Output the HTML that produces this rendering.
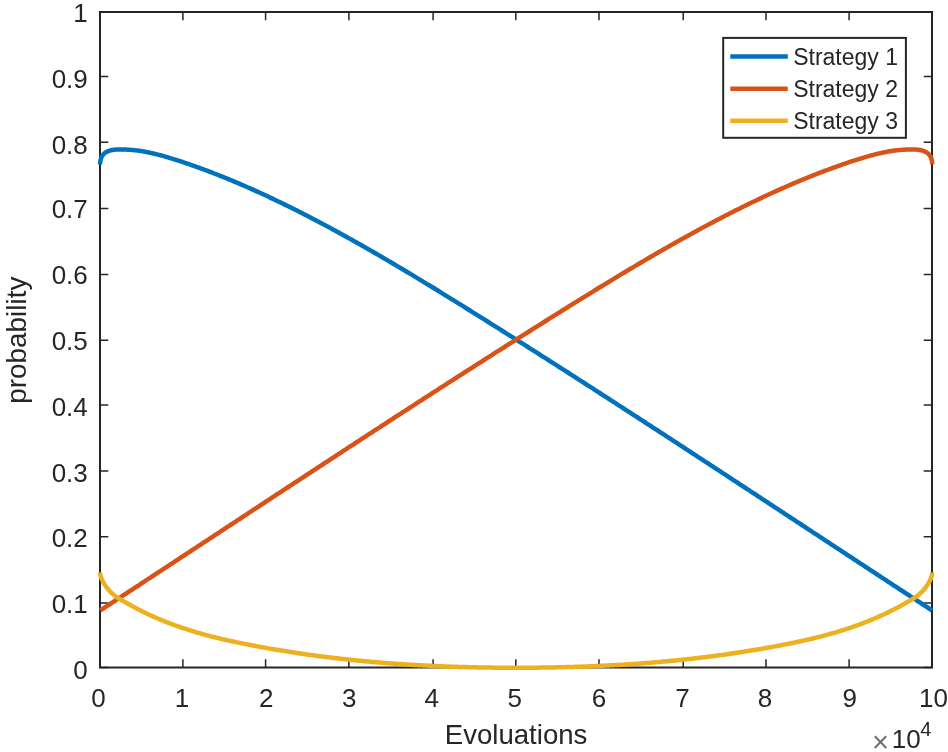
<!DOCTYPE html>
<html><head><meta charset="utf-8"><style>
html,body{margin:0;padding:0;background:#fff;}
body{width:948px;height:752px;overflow:hidden;}
svg{display:block;}
text{font-family:"Liberation Sans",Arial,sans-serif;fill:#262626;}
</style></head><body>
<svg width="948" height="752" viewBox="0 0 948 752">
<rect x="0" y="0" width="948" height="752" fill="#fff"/>
<rect x="100.0" y="12.0" width="832.0" height="655.5" fill="#fff" stroke="#262626" stroke-width="2"/>
<path d="M100.00,667.5V659.20M100.00,12.0V20.30M100.0,667.40H108.30M932.0,667.40H923.70M182.90,667.5V659.20M182.90,12.0V20.30M100.0,603.10H108.30M932.0,603.10H923.70M265.60,667.5V659.20M265.60,12.0V20.30M100.0,536.80H108.30M932.0,536.80H923.70M348.90,667.5V659.20M348.90,12.0V20.30M100.0,470.90H108.30M932.0,470.90H923.70M433.10,667.5V659.20M433.10,12.0V20.30M100.0,404.90H108.30M932.0,404.90H923.70M515.80,667.5V659.20M515.80,12.0V20.30M100.0,340.30H108.30M932.0,340.30H923.70M599.00,667.5V659.20M599.00,12.0V20.30M100.0,274.40H108.30M932.0,274.40H923.70M683.20,667.5V659.20M683.20,12.0V20.30M100.0,208.40H108.30M932.0,208.40H923.70M766.00,667.5V659.20M766.00,12.0V20.30M100.0,142.30H108.30M932.0,142.30H923.70M849.10,667.5V659.20M849.10,12.0V20.30M100.0,76.40H108.30M932.0,76.40H923.70M932.00,667.5V659.20M932.00,12.0V20.30M100.0,12.00H108.30M932.0,12.00H923.70" stroke="#262626" stroke-width="1.5" fill="none"/>
<g font-size="26">
<text x="87.8" y="678.85" text-anchor="end">0</text><text x="87.8" y="613.05" text-anchor="end">0.1</text><text x="87.8" y="546.65" text-anchor="end">0.2</text><text x="87.8" y="482.15" text-anchor="end">0.3</text><text x="87.8" y="416.15" text-anchor="end">0.4</text><text x="87.8" y="350.35" text-anchor="end">0.5</text><text x="87.8" y="284.15" text-anchor="end">0.6</text><text x="87.8" y="218.40" text-anchor="end">0.7</text><text x="87.8" y="154.00" text-anchor="end">0.8</text><text x="87.8" y="87.90" text-anchor="end">0.9</text><text x="87.8" y="21.80" text-anchor="end">1</text>
<text x="98.6" y="706.6" text-anchor="middle">0</text><text x="181.9" y="706.6" text-anchor="middle">1</text><text x="266.3" y="706.6" text-anchor="middle">2</text><text x="349.2" y="706.6" text-anchor="middle">3</text><text x="431.7" y="706.6" text-anchor="middle">4</text><text x="514.7" y="706.6" text-anchor="middle">5</text><text x="599.0" y="706.6" text-anchor="middle">6</text><text x="682.5" y="706.6" text-anchor="middle">7</text><text x="764.9" y="706.6" text-anchor="middle">8</text><text x="849.7" y="706.6" text-anchor="middle">9</text><text x="933.4" y="706.6" text-anchor="middle">10</text>
</g>
<text x="516.1" y="743.5" font-size="27.6" text-anchor="middle">Evoluations</text>
<text transform="translate(25.7,340.2) rotate(-90)" font-size="27.9" text-anchor="middle">probability</text>
<text x="871.9" y="752.0" font-size="29" style="fill:#707070">×</text>
<text x="891.8" y="747.8" font-size="26">10</text>
<text x="920.2" y="735.6" font-size="20">4</text>
<g fill="none" stroke-width="4.5" stroke-linejoin="round" stroke-linecap="butt">
<path d="M100.00,164.30L100.04,163.67L100.10,163.04L100.16,162.43L100.24,161.82L100.33,161.22L100.44,160.64L100.56,160.07L100.70,159.50L100.86,158.95L101.03,158.41L101.22,157.89L101.43,157.37L101.67,156.87L101.92,156.38L102.20,155.91L102.50,155.45L102.82,155.00L103.17,154.57L103.55,154.15L103.96,153.75L104.39,153.36L104.85,152.99L105.34,152.64L105.86,152.30L106.41,151.98L107.00,151.68L107.62,151.40L108.27,151.13L108.96,150.88L109.69,150.65L110.45,150.44L111.25,150.25L112.09,150.08L112.97,149.93L113.89,149.80L114.85,149.69L115.86,149.61L116.91,149.54L118.00,149.49L119.63,149.46L121.26,149.45L122.89,149.46L124.53,149.49L126.16,149.55L127.79,149.64L129.42,149.74L131.05,149.87L132.68,150.01L134.31,150.18L135.94,150.37L137.58,150.57L139.21,150.80L140.84,151.04L142.47,151.31L144.10,151.59L145.73,151.88L147.36,152.20L148.99,152.53L150.63,152.87L152.26,153.23L153.89,153.61L155.52,153.99L157.15,154.40L158.78,154.81L160.41,155.24L162.04,155.68L163.68,156.12L165.31,156.59L166.94,157.06L168.57,157.54L170.20,158.03L171.83,158.53L173.46,159.03L175.09,159.55L176.73,160.07L178.36,160.60L179.99,161.13L181.62,161.68L183.25,162.22L184.88,162.77L186.51,163.33L188.14,163.89L189.78,164.45L191.41,165.02L193.04,165.60L194.67,166.17L196.30,166.76L197.93,167.34L199.56,167.94L201.19,168.53L202.83,169.13L204.46,169.74L206.09,170.35L207.72,170.96L209.35,171.58L210.98,172.21L212.61,172.83L214.24,173.47L215.88,174.10L217.51,174.74L219.14,175.39L220.77,176.04L222.40,176.69L224.03,177.35L225.66,178.01L227.29,178.67L228.93,179.34L230.56,180.02L232.19,180.69L233.82,181.37L235.45,182.06L237.08,182.75L238.71,183.44L240.34,184.14L241.98,184.84L243.61,185.55L245.24,186.26L246.87,186.97L248.50,187.69L250.13,188.41L251.76,189.13L253.39,189.86L255.03,190.59L256.66,191.33L258.29,192.07L259.92,192.81L261.55,193.56L263.18,194.31L264.81,195.06L266.44,195.82L268.08,196.58L269.71,197.34L271.34,198.11L272.97,198.88L274.60,199.66L276.23,200.44L277.86,201.22L279.49,202.00L281.13,202.79L282.76,203.58L284.39,204.38L286.02,205.18L287.65,205.98L289.28,206.78L290.91,207.59L292.55,208.40L294.18,209.22L295.81,210.03L297.44,210.85L299.07,211.68L300.70,212.51L302.33,213.34L303.96,214.17L305.60,215.00L307.23,215.84L308.86,216.68L310.49,217.53L312.12,218.38L313.75,219.23L315.38,220.08L317.01,220.94L318.65,221.80L320.28,222.66L321.91,223.52L323.54,224.39L325.17,225.26L326.80,226.13L328.43,227.01L330.06,227.89L331.70,228.77L333.33,229.65L334.96,230.54L336.59,231.43L338.22,232.32L339.85,233.21L341.48,234.11L343.11,235.00L344.75,235.91L346.38,236.81L348.01,237.71L349.64,238.62L351.27,239.53L352.90,240.45L354.53,241.36L356.16,242.28L357.80,243.20L359.43,244.12L361.06,245.04L362.69,245.97L364.32,246.90L365.95,247.83L367.58,248.76L369.21,249.70L370.85,250.63L372.48,251.57L374.11,252.51L375.74,253.46L377.37,254.40L379.00,255.35L380.63,256.30L382.26,257.25L383.90,258.20L385.53,259.16L387.16,260.11L388.79,261.07L390.42,262.03L392.05,262.99L393.68,263.95L395.31,264.92L396.95,265.89L398.58,266.85L400.21,267.82L401.84,268.80L403.47,269.77L405.10,270.74L406.73,271.72L408.36,272.70L410.00,273.68L411.63,274.66L413.26,275.64L414.89,276.63L416.52,277.61L418.15,278.60L419.78,279.59L421.41,280.58L423.05,281.57L424.68,282.56L426.31,283.55L427.94,284.55L429.57,285.54L431.20,286.54L432.83,287.54L434.46,288.54L436.10,289.54L437.73,290.54L439.36,291.54L440.99,292.55L442.62,293.55L444.25,294.56L445.88,295.56L447.52,296.57L449.15,297.58L450.78,298.59L452.41,299.60L454.04,300.61L455.67,301.62L457.30,302.64L458.93,303.65L460.57,304.67L462.20,305.68L463.83,306.70L465.46,307.72L467.09,308.73L468.72,309.75L470.35,310.77L471.98,311.79L473.62,312.81L475.25,313.83L476.88,314.85L478.51,315.87L480.14,316.90L481.77,317.92L483.40,318.94L485.03,319.97L486.67,320.99L488.30,322.02L489.93,323.04L491.56,324.07L493.19,325.09L494.82,326.12L496.45,327.15L498.08,328.17L499.72,329.20L501.35,330.23L502.98,331.26L504.61,332.29L506.24,333.32L507.87,334.35L509.50,335.38L511.13,336.41L512.77,337.44L514.40,338.47L516.03,339.51L517.66,340.54L519.29,341.57L520.92,342.61L522.55,343.64L524.18,344.68L525.82,345.71L527.45,346.75L529.08,347.78L530.71,348.82L532.34,349.86L533.97,350.89L535.60,351.93L537.23,352.97L538.87,354.01L540.50,355.05L542.13,356.08L543.76,357.12L545.39,358.16L547.02,359.20L548.65,360.25L550.28,361.29L551.92,362.33L553.55,363.37L555.18,364.41L556.81,365.45L558.44,366.50L560.07,367.54L561.70,368.58L563.33,369.63L564.97,370.67L566.60,371.72L568.23,372.76L569.86,373.81L571.49,374.85L573.12,375.90L574.75,376.95L576.38,377.99L578.02,379.04L579.65,380.09L581.28,381.14L582.91,382.19L584.54,383.23L586.17,384.28L587.80,385.33L589.43,386.38L591.07,387.43L592.70,388.48L594.33,389.53L595.96,390.58L597.59,391.64L599.22,392.69L600.85,393.74L602.48,394.79L604.12,395.84L605.75,396.90L607.38,397.95L609.01,399.00L610.64,400.06L612.27,401.11L613.90,402.16L615.54,403.22L617.17,404.27L618.80,405.33L620.43,406.39L622.06,407.44L623.69,408.50L625.32,409.55L626.95,410.61L628.59,411.67L630.22,412.72L631.85,413.78L633.48,414.84L635.11,415.90L636.74,416.95L638.37,418.01L640.00,419.07L641.64,420.13L643.27,421.19L644.90,422.25L646.53,423.31L648.16,424.37L649.79,425.43L651.42,426.49L653.05,427.55L654.69,428.61L656.32,429.67L657.95,430.73L659.58,431.79L661.21,432.86L662.84,433.92L664.47,434.98L666.10,436.04L667.74,437.11L669.37,438.17L671.00,439.23L672.63,440.30L674.26,441.36L675.89,442.42L677.52,443.49L679.15,444.55L680.79,445.61L682.42,446.68L684.05,447.74L685.68,448.81L687.31,449.87L688.94,450.94L690.57,452.00L692.20,453.07L693.84,454.14L695.47,455.20L697.10,456.27L698.73,457.33L700.36,458.40L701.99,459.47L703.62,460.53L705.25,461.60L706.89,462.67L708.52,463.74L710.15,464.80L711.78,465.87L713.41,466.94L715.04,468.01L716.67,469.07L718.30,470.14L719.94,471.21L721.57,472.28L723.20,473.35L724.83,474.42L726.46,475.49L728.09,476.55L729.72,477.62L731.35,478.69L732.99,479.76L734.62,480.83L736.25,481.90L737.88,482.97L739.51,484.04L741.14,485.11L742.77,486.18L744.40,487.25L746.04,488.32L747.67,489.39L749.30,490.46L750.93,491.53L752.56,492.60L754.19,493.67L755.82,494.74L757.45,495.81L759.09,496.89L760.72,497.96L762.35,499.03L763.98,500.10L765.61,501.17L767.24,502.24L768.87,503.31L770.51,504.38L772.14,505.46L773.77,506.53L775.40,507.60L777.03,508.67L778.66,509.74L780.29,510.81L781.92,511.89L783.56,512.96L785.19,514.03L786.82,515.10L788.45,516.17L790.08,517.25L791.71,518.32L793.34,519.39L794.97,520.46L796.61,521.54L798.24,522.61L799.87,523.68L801.50,524.75L803.13,525.82L804.76,526.90L806.39,527.97L808.02,529.04L809.66,530.11L811.29,531.19L812.92,532.26L814.55,533.33L816.18,534.40L817.81,535.48L819.44,536.55L821.07,537.62L822.71,538.69L824.34,539.77L825.97,540.84L827.60,541.91L829.23,542.98L830.86,544.05L832.49,545.13L834.12,546.20L835.76,547.27L837.39,548.34L839.02,549.42L840.65,550.49L842.28,551.56L843.91,552.63L845.54,553.70L847.17,554.78L848.81,555.85L850.44,556.92L852.07,557.99L853.70,559.06L855.33,560.13L856.96,561.21L858.59,562.28L860.22,563.35L861.86,564.42L863.49,565.49L865.12,566.56L866.75,567.63L868.38,568.71L870.01,569.78L871.64,570.85L873.27,571.92L874.91,572.99L876.54,574.06L878.17,575.13L879.80,576.20L881.43,577.27L883.06,578.34L884.69,579.41L886.32,580.48L887.96,581.55L889.59,582.62L891.22,583.69L892.85,584.76L894.48,585.83L896.11,586.90L897.74,587.97L899.37,589.04L901.01,590.11L902.64,591.18L904.27,592.25L905.90,593.32L907.53,594.38L909.16,595.45L910.79,596.52L912.42,597.59L914.06,598.66L915.69,599.73L917.32,600.79L918.95,601.86L920.58,602.93L922.21,604.00L923.84,605.06L925.47,606.13L927.11,607.20L928.74,608.26L930.37,609.33L932.00,610.40" stroke="#0072BD"/>
<path d="M100.30,610.40L101.93,609.33L103.56,608.26L105.19,607.20L106.83,606.13L108.46,605.06L110.09,604.00L111.72,602.93L113.35,601.86L114.98,600.79L116.61,599.73L118.24,598.66L119.88,597.59L121.51,596.52L123.14,595.45L124.77,594.38L126.40,593.32L128.03,592.25L129.66,591.18L131.29,590.11L132.93,589.04L134.56,587.97L136.19,586.90L137.82,585.83L139.45,584.76L141.08,583.69L142.71,582.62L144.34,581.55L145.98,580.48L147.61,579.41L149.24,578.34L150.87,577.27L152.50,576.20L154.13,575.13L155.76,574.06L157.39,572.99L159.03,571.92L160.66,570.85L162.29,569.78L163.92,568.71L165.55,567.63L167.18,566.56L168.81,565.49L170.44,564.42L172.08,563.35L173.71,562.28L175.34,561.21L176.97,560.13L178.60,559.06L180.23,557.99L181.86,556.92L183.49,555.85L185.13,554.78L186.76,553.70L188.39,552.63L190.02,551.56L191.65,550.49L193.28,549.42L194.91,548.34L196.54,547.27L198.18,546.20L199.81,545.13L201.44,544.05L203.07,542.98L204.70,541.91L206.33,540.84L207.96,539.77L209.59,538.69L211.23,537.62L212.86,536.55L214.49,535.48L216.12,534.40L217.75,533.33L219.38,532.26L221.01,531.19L222.64,530.11L224.28,529.04L225.91,527.97L227.54,526.90L229.17,525.82L230.80,524.75L232.43,523.68L234.06,522.61L235.69,521.54L237.33,520.46L238.96,519.39L240.59,518.32L242.22,517.25L243.85,516.17L245.48,515.10L247.11,514.03L248.74,512.96L250.38,511.89L252.01,510.81L253.64,509.74L255.27,508.67L256.90,507.60L258.53,506.53L260.16,505.46L261.79,504.38L263.43,503.31L265.06,502.24L266.69,501.17L268.32,500.10L269.95,499.03L271.58,497.96L273.21,496.89L274.85,495.81L276.48,494.74L278.11,493.67L279.74,492.60L281.37,491.53L283.00,490.46L284.63,489.39L286.26,488.32L287.90,487.25L289.53,486.18L291.16,485.11L292.79,484.04L294.42,482.97L296.05,481.90L297.68,480.83L299.31,479.76L300.95,478.69L302.58,477.62L304.21,476.55L305.84,475.49L307.47,474.42L309.10,473.35L310.73,472.28L312.36,471.21L314.00,470.14L315.63,469.07L317.26,468.01L318.89,466.94L320.52,465.87L322.15,464.80L323.78,463.74L325.41,462.67L327.05,461.60L328.68,460.53L330.31,459.47L331.94,458.40L333.57,457.33L335.20,456.27L336.83,455.20L338.46,454.14L340.10,453.07L341.73,452.00L343.36,450.94L344.99,449.87L346.62,448.81L348.25,447.74L349.88,446.68L351.51,445.61L353.15,444.55L354.78,443.49L356.41,442.42L358.04,441.36L359.67,440.30L361.30,439.23L362.93,438.17L364.56,437.11L366.20,436.04L367.83,434.98L369.46,433.92L371.09,432.86L372.72,431.79L374.35,430.73L375.98,429.67L377.61,428.61L379.25,427.55L380.88,426.49L382.51,425.43L384.14,424.37L385.77,423.31L387.40,422.25L389.03,421.19L390.66,420.13L392.30,419.07L393.93,418.01L395.56,416.95L397.19,415.90L398.82,414.84L400.45,413.78L402.08,412.72L403.71,411.67L405.35,410.61L406.98,409.55L408.61,408.50L410.24,407.44L411.87,406.39L413.50,405.33L415.13,404.27L416.76,403.22L418.40,402.16L420.03,401.11L421.66,400.06L423.29,399.00L424.92,397.95L426.55,396.90L428.18,395.84L429.82,394.79L431.45,393.74L433.08,392.69L434.71,391.64L436.34,390.58L437.97,389.53L439.60,388.48L441.23,387.43L442.87,386.38L444.50,385.33L446.13,384.28L447.76,383.23L449.39,382.19L451.02,381.14L452.65,380.09L454.28,379.04L455.92,377.99L457.55,376.95L459.18,375.90L460.81,374.85L462.44,373.81L464.07,372.76L465.70,371.72L467.33,370.67L468.97,369.63L470.60,368.58L472.23,367.54L473.86,366.50L475.49,365.45L477.12,364.41L478.75,363.37L480.38,362.33L482.02,361.29L483.65,360.25L485.28,359.20L486.91,358.16L488.54,357.12L490.17,356.08L491.80,355.05L493.43,354.01L495.07,352.97L496.70,351.93L498.33,350.89L499.96,349.86L501.59,348.82L503.22,347.78L504.85,346.75L506.48,345.71L508.12,344.68L509.75,343.64L511.38,342.61L513.01,341.57L514.64,340.54L516.27,339.51L517.90,338.47L519.53,337.44L521.17,336.41L522.80,335.38L524.43,334.35L526.06,333.32L527.69,332.29L529.32,331.26L530.95,330.23L532.58,329.20L534.22,328.17L535.85,327.15L537.48,326.12L539.11,325.09L540.74,324.07L542.37,323.04L544.00,322.02L545.63,320.99L547.27,319.97L548.90,318.94L550.53,317.92L552.16,316.90L553.79,315.87L555.42,314.85L557.05,313.83L558.68,312.81L560.32,311.79L561.95,310.77L563.58,309.75L565.21,308.73L566.84,307.72L568.47,306.70L570.10,305.68L571.73,304.67L573.37,303.65L575.00,302.64L576.63,301.62L578.26,300.61L579.89,299.60L581.52,298.59L583.15,297.58L584.78,296.57L586.42,295.56L588.05,294.56L589.68,293.55L591.31,292.55L592.94,291.54L594.57,290.54L596.20,289.54L597.84,288.54L599.47,287.54L601.10,286.54L602.73,285.54L604.36,284.55L605.99,283.55L607.62,282.56L609.25,281.57L610.89,280.58L612.52,279.59L614.15,278.60L615.78,277.61L617.41,276.63L619.04,275.64L620.67,274.66L622.30,273.68L623.94,272.70L625.57,271.72L627.20,270.74L628.83,269.77L630.46,268.80L632.09,267.82L633.72,266.85L635.35,265.89L636.99,264.92L638.62,263.95L640.25,262.99L641.88,262.03L643.51,261.07L645.14,260.11L646.77,259.16L648.40,258.20L650.04,257.25L651.67,256.30L653.30,255.35L654.93,254.40L656.56,253.46L658.19,252.51L659.82,251.57L661.45,250.63L663.09,249.70L664.72,248.76L666.35,247.83L667.98,246.90L669.61,245.97L671.24,245.04L672.87,244.12L674.50,243.20L676.14,242.28L677.77,241.36L679.40,240.45L681.03,239.53L682.66,238.62L684.29,237.71L685.92,236.81L687.55,235.91L689.19,235.00L690.82,234.11L692.45,233.21L694.08,232.32L695.71,231.43L697.34,230.54L698.97,229.65L700.60,228.77L702.24,227.89L703.87,227.01L705.50,226.13L707.13,225.26L708.76,224.39L710.39,223.52L712.02,222.66L713.65,221.80L715.29,220.94L716.92,220.08L718.55,219.23L720.18,218.38L721.81,217.53L723.44,216.68L725.07,215.84L726.70,215.00L728.34,214.17L729.97,213.34L731.60,212.51L733.23,211.68L734.86,210.85L736.49,210.03L738.12,209.22L739.75,208.40L741.39,207.59L743.02,206.78L744.65,205.98L746.28,205.18L747.91,204.38L749.54,203.58L751.17,202.79L752.81,202.00L754.44,201.22L756.07,200.44L757.70,199.66L759.33,198.88L760.96,198.11L762.59,197.34L764.22,196.58L765.86,195.82L767.49,195.06L769.12,194.31L770.75,193.56L772.38,192.81L774.01,192.07L775.64,191.33L777.27,190.59L778.91,189.86L780.54,189.13L782.17,188.41L783.80,187.69L785.43,186.97L787.06,186.26L788.69,185.55L790.32,184.84L791.96,184.14L793.59,183.44L795.22,182.75L796.85,182.06L798.48,181.37L800.11,180.69L801.74,180.02L803.37,179.34L805.01,178.67L806.64,178.01L808.27,177.35L809.90,176.69L811.53,176.04L813.16,175.39L814.79,174.74L816.42,174.10L818.06,173.47L819.69,172.83L821.32,172.21L822.95,171.58L824.58,170.96L826.21,170.35L827.84,169.74L829.47,169.13L831.11,168.53L832.74,167.94L834.37,167.34L836.00,166.76L837.63,166.17L839.26,165.60L840.89,165.02L842.52,164.45L844.16,163.89L845.79,163.33L847.42,162.77L849.05,162.22L850.68,161.68L852.31,161.13L853.94,160.60L855.57,160.07L857.21,159.55L858.84,159.03L860.47,158.53L862.10,158.03L863.73,157.54L865.36,157.06L866.99,156.59L868.62,156.12L870.26,155.68L871.89,155.24L873.52,154.81L875.15,154.40L876.78,153.99L878.41,153.61L880.04,153.23L881.67,152.87L883.31,152.53L884.94,152.20L886.57,151.88L888.20,151.59L889.83,151.31L891.46,151.04L893.09,150.80L894.72,150.57L896.36,150.37L897.99,150.18L899.62,150.01L901.25,149.87L902.88,149.74L904.51,149.64L906.14,149.55L907.77,149.49L909.41,149.46L911.04,149.45L912.67,149.46L914.30,149.49L915.39,149.54L916.44,149.61L917.45,149.69L918.41,149.80L919.33,149.93L920.21,150.08L921.05,150.25L921.85,150.44L922.61,150.65L923.34,150.88L924.03,151.13L924.68,151.40L925.30,151.68L925.89,151.98L926.44,152.30L926.96,152.64L927.45,152.99L927.91,153.36L928.34,153.75L928.75,154.15L929.13,154.57L929.48,155.00L929.80,155.45L930.10,155.91L930.38,156.38L930.63,156.87L930.87,157.37L931.08,157.89L931.27,158.41L931.44,158.95L931.60,159.50L931.74,160.07L931.86,160.64L931.97,161.22L932.06,161.82L932.14,162.43L932.20,163.04L932.26,163.67L932.30,164.30" stroke="#D95319"/>
<path d="M100.00,572.40L100.06,573.03L100.15,573.67L100.26,574.32L100.40,574.98L100.56,575.65L100.75,576.33L100.96,577.02L101.19,577.71L101.45,578.41L101.74,579.11L102.04,579.82L102.37,580.53L102.72,581.25L103.09,581.96L103.49,582.68L103.90,583.40L104.34,584.11L104.79,584.83L105.27,585.54L105.76,586.25L106.28,586.96L106.81,587.66L107.36,588.35L107.92,589.04L108.51,589.73L109.11,590.40L109.73,591.07L110.36,591.72L111.01,592.37L111.68,593.00L112.36,593.63L113.06,594.24L113.77,594.83L114.49,595.41L115.23,595.98L115.98,596.53L116.74,597.06L117.51,597.58L118.30,598.08L119.90,599.05L121.50,600.02L123.09,600.97L124.69,601.90L126.29,602.82L127.89,603.73L129.48,604.63L131.08,605.52L132.68,606.39L134.28,607.24L135.88,608.09L137.47,608.92L139.07,609.75L140.67,610.56L142.27,611.35L143.86,612.14L145.46,612.91L147.06,613.67L148.66,614.43L150.26,615.17L151.85,615.89L153.45,616.61L155.05,617.32L156.65,618.02L158.24,618.70L159.84,619.38L161.44,620.04L163.04,620.70L164.64,621.34L166.23,621.98L167.83,622.60L169.43,623.22L171.03,623.83L172.62,624.42L174.22,625.01L175.82,625.59L177.42,626.16L179.02,626.72L180.61,627.27L182.21,627.82L183.81,628.35L185.41,628.88L187.01,629.40L188.60,629.91L190.20,630.42L191.80,630.91L193.40,631.40L194.99,631.88L196.59,632.36L198.19,632.82L199.79,633.28L201.39,633.74L202.98,634.18L204.58,634.62L206.18,635.06L207.78,635.48L209.37,635.90L210.97,636.32L212.57,636.73L214.17,637.13L215.77,637.53L217.36,637.92L218.96,638.31L220.56,638.69L222.16,639.07L223.75,639.44L225.35,639.80L226.95,640.17L228.55,640.53L230.15,640.88L231.74,641.23L233.34,641.57L234.94,641.91L236.54,642.25L238.13,642.59L239.73,642.92L241.33,643.24L242.93,643.57L244.53,643.89L246.12,644.20L247.72,644.52L249.32,644.83L250.92,645.14L252.51,645.45L254.11,645.75L255.71,646.05L257.31,646.35L258.91,646.65L260.50,646.94L262.10,647.24L263.70,647.53L265.30,647.81L266.89,648.10L268.49,648.38L270.09,648.66L271.69,648.94L273.29,649.21L274.88,649.48L276.48,649.75L278.08,650.02L279.68,650.29L281.27,650.55L282.87,650.81L284.47,651.07L286.07,651.33L287.67,651.58L289.26,651.83L290.86,652.08L292.46,652.33L294.06,652.57L295.65,652.81L297.25,653.05L298.85,653.29L300.45,653.53L302.05,653.76L303.64,653.99L305.24,654.22L306.84,654.44L308.44,654.67L310.03,654.89L311.63,655.11L313.23,655.33L314.83,655.54L316.43,655.75L318.02,655.97L319.62,656.17L321.22,656.38L322.82,656.59L324.42,656.79L326.01,656.99L327.61,657.19L329.21,657.38L330.81,657.57L332.40,657.77L334.00,657.96L335.60,658.14L337.20,658.33L338.80,658.51L340.39,658.69L341.99,658.87L343.59,659.05L345.19,659.22L346.78,659.40L348.38,659.57L349.98,659.74L351.58,659.90L353.18,660.07L354.77,660.23L356.37,660.39L357.97,660.55L359.57,660.71L361.16,660.86L362.76,661.01L364.36,661.16L365.96,661.31L367.56,661.46L369.15,661.61L370.75,661.75L372.35,661.89L373.95,662.03L375.54,662.17L377.14,662.30L378.74,662.44L380.34,662.57L381.94,662.70L383.53,662.83L385.13,662.95L386.73,663.08L388.33,663.20L389.92,663.32L391.52,663.44L393.12,663.56L394.72,663.67L396.32,663.78L397.91,663.90L399.51,664.01L401.11,664.11L402.71,664.22L404.30,664.33L405.90,664.43L407.50,664.53L409.10,664.63L410.70,664.73L412.29,664.82L413.89,664.92L415.49,665.01L417.09,665.10L418.68,665.19L420.28,665.28L421.88,665.36L423.48,665.45L425.08,665.53L426.67,665.61L428.27,665.69L429.87,665.77L431.47,665.84L433.06,665.92L434.66,665.99L436.26,666.06L437.86,666.13L439.46,666.20L441.05,666.27L442.65,666.33L444.25,666.40L445.85,666.46L447.44,666.52L449.04,666.58L450.64,666.63L452.24,666.69L453.84,666.74L455.43,666.80L457.03,666.85L458.63,666.90L460.23,666.95L461.83,666.99L463.42,667.04L465.02,667.08L466.62,667.12L468.22,667.17L469.81,667.21L471.41,667.24L473.01,667.28L474.61,667.32L476.21,667.35L477.80,667.38L479.40,667.41L481.00,667.44L482.60,667.47L484.19,667.50L485.79,667.52L487.39,667.55L488.99,667.57L490.59,667.59L492.18,667.61L493.78,667.63L495.38,667.65L496.98,667.67L498.57,667.68L500.17,667.70L501.77,667.71L503.37,667.72L504.97,667.73L506.56,667.74L508.16,667.75L509.76,667.75L511.36,667.76L512.95,667.76L514.55,667.77L516.15,667.77L517.75,667.77L519.35,667.76L520.94,667.76L522.54,667.75L524.14,667.75L525.74,667.74L527.33,667.73L528.93,667.72L530.53,667.71L532.13,667.70L533.73,667.68L535.32,667.67L536.92,667.65L538.52,667.63L540.12,667.61L541.71,667.59L543.31,667.57L544.91,667.55L546.51,667.52L548.11,667.50L549.70,667.47L551.30,667.44L552.90,667.41L554.50,667.38L556.09,667.35L557.69,667.32L559.29,667.28L560.89,667.24L562.49,667.21L564.08,667.17L565.68,667.12L567.28,667.08L568.88,667.04L570.47,666.99L572.07,666.95L573.67,666.90L575.27,666.85L576.87,666.80L578.46,666.74L580.06,666.69L581.66,666.63L583.26,666.58L584.86,666.52L586.45,666.46L588.05,666.40L589.65,666.33L591.25,666.27L592.84,666.20L594.44,666.13L596.04,666.06L597.64,665.99L599.24,665.92L600.83,665.84L602.43,665.77L604.03,665.69L605.63,665.61L607.22,665.53L608.82,665.45L610.42,665.36L612.02,665.28L613.62,665.19L615.21,665.10L616.81,665.01L618.41,664.92L620.01,664.82L621.60,664.73L623.20,664.63L624.80,664.53L626.40,664.43L628.00,664.33L629.59,664.22L631.19,664.11L632.79,664.01L634.39,663.90L635.98,663.78L637.58,663.67L639.18,663.56L640.78,663.44L642.38,663.32L643.97,663.20L645.57,663.08L647.17,662.95L648.77,662.83L650.36,662.70L651.96,662.57L653.56,662.44L655.16,662.30L656.76,662.17L658.35,662.03L659.95,661.89L661.55,661.75L663.15,661.61L664.74,661.46L666.34,661.31L667.94,661.16L669.54,661.01L671.14,660.86L672.73,660.71L674.33,660.55L675.93,660.39L677.53,660.23L679.12,660.07L680.72,659.90L682.32,659.74L683.92,659.57L685.52,659.40L687.11,659.22L688.71,659.05L690.31,658.87L691.91,658.69L693.50,658.51L695.10,658.33L696.70,658.14L698.30,657.96L699.90,657.77L701.49,657.57L703.09,657.38L704.69,657.19L706.29,656.99L707.88,656.79L709.48,656.59L711.08,656.38L712.68,656.17L714.28,655.97L715.87,655.75L717.47,655.54L719.07,655.33L720.67,655.11L722.27,654.89L723.86,654.67L725.46,654.44L727.06,654.22L728.66,653.99L730.25,653.76L731.85,653.53L733.45,653.29L735.05,653.05L736.65,652.81L738.24,652.57L739.84,652.33L741.44,652.08L743.04,651.83L744.63,651.58L746.23,651.33L747.83,651.07L749.43,650.81L751.03,650.55L752.62,650.29L754.22,650.02L755.82,649.75L757.42,649.48L759.01,649.21L760.61,648.94L762.21,648.66L763.81,648.38L765.41,648.10L767.00,647.81L768.60,647.53L770.20,647.24L771.80,646.94L773.39,646.65L774.99,646.35L776.59,646.05L778.19,645.75L779.79,645.45L781.38,645.14L782.98,644.83L784.58,644.52L786.18,644.20L787.77,643.89L789.37,643.57L790.97,643.24L792.57,642.92L794.17,642.59L795.76,642.25L797.36,641.91L798.96,641.57L800.56,641.23L802.15,640.88L803.75,640.53L805.35,640.17L806.95,639.80L808.55,639.44L810.14,639.07L811.74,638.69L813.34,638.31L814.94,637.92L816.53,637.53L818.13,637.13L819.73,636.73L821.33,636.32L822.93,635.90L824.52,635.48L826.12,635.06L827.72,634.62L829.32,634.18L830.91,633.74L832.51,633.28L834.11,632.82L835.71,632.36L837.31,631.88L838.90,631.40L840.50,630.91L842.10,630.42L843.70,629.91L845.29,629.40L846.89,628.88L848.49,628.35L850.09,627.82L851.69,627.27L853.28,626.72L854.88,626.16L856.48,625.59L858.08,625.01L859.68,624.42L861.27,623.83L862.87,623.22L864.47,622.60L866.07,621.98L867.66,621.34L869.26,620.70L870.86,620.04L872.46,619.38L874.06,618.70L875.65,618.02L877.25,617.32L878.85,616.61L880.45,615.89L882.04,615.17L883.64,614.43L885.24,613.67L886.84,612.91L888.44,612.14L890.03,611.35L891.63,610.56L893.23,609.75L894.83,608.92L896.42,608.09L898.02,607.24L899.62,606.39L901.22,605.52L902.82,604.63L904.41,603.73L906.01,602.82L907.61,601.90L909.21,600.97L910.80,600.02L912.40,599.05L914.00,598.08L914.79,597.58L915.56,597.06L916.32,596.53L917.07,595.98L917.81,595.41L918.53,594.83L919.24,594.24L919.94,593.63L920.62,593.00L921.29,592.37L921.94,591.72L922.57,591.07L923.19,590.40L923.79,589.73L924.38,589.04L924.94,588.35L925.49,587.66L926.02,586.96L926.54,586.25L927.03,585.54L927.51,584.83L927.96,584.11L928.40,583.40L928.81,582.68L929.21,581.96L929.58,581.25L929.93,580.53L930.26,579.82L930.56,579.11L930.85,578.41L931.11,577.71L931.34,577.02L931.55,576.33L931.74,575.65L931.90,574.98L932.04,574.32L932.15,573.67L932.24,573.03L932.30,572.40" stroke="#EDB120"/>
</g>
<rect x="723.2" y="37.9" width="182.7" height="99.9" fill="#fff" stroke="#262626" stroke-width="2"/>
<g stroke-width="4.5">
<path d="M730.3,56.6H787.8" stroke="#0072BD"/>
<path d="M730.3,88.7H787.8" stroke="#D95319"/>
<path d="M730.3,120.8H787.8" stroke="#EDB120"/>
</g>
<g font-size="23">
<text x="793.2" y="65.2">Strategy 1</text>
<text x="793.2" y="97.3">Strategy 2</text>
<text x="793.2" y="129.4">Strategy 3</text>
</g>
</svg>
</body></html>
